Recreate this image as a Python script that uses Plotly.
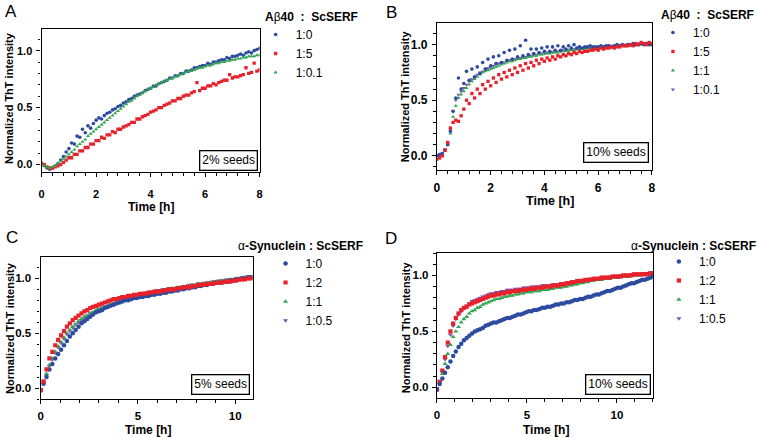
import plotly.graph_objects as go

FONT = "Liberation Sans, Arial, sans-serif"

# ---- data ----
time_ab = [0.0, 0.1, 0.2, 0.3, 0.4, 0.5, 0.6, 0.7, 0.8, 0.9,
           1.0, 1.1, 1.2, 1.3, 1.4, 1.5, 1.6, 1.7, 1.8, 1.9,
           2.0, 2.1, 2.2, 2.3, 2.4, 2.5, 2.6, 2.7, 2.8, 2.9,
           3.0, 3.1, 3.2, 3.3, 3.4, 3.5, 3.6, 3.7, 3.8, 3.9,
           4.0, 4.1, 4.2, 4.3, 4.4, 4.5, 4.6, 4.7, 4.8, 4.9,
           5.0, 5.1, 5.2, 5.3, 5.4, 5.5, 5.6, 5.7, 5.8, 5.9,
           6.0, 6.1, 6.2, 6.3, 6.4, 6.5, 6.6, 6.7, 6.8, 6.9,
           7.0, 7.1, 7.2, 7.3, 7.4, 7.5, 7.6, 7.7, 7.8, 7.9,
           8.0]

# panel A: Abeta40 : ScSERF, 2% seeds
a_1_0 = [0.01, -0.01, -0.03, -0.04, -0.03, -0.01, 0.01, 0.04, 0.07, 0.11,
         0.14, 0.19, 0.18, 0.25, 0.24, 0.31, 0.28, 0.34, 0.32, 0.36,
         0.39, 0.41, 0.40, 0.43, 0.45, 0.46, 0.48, 0.49, 0.51, 0.52,
         0.54, 0.55, 0.57, 0.58, 0.60, 0.61, 0.62, 0.63, 0.65, 0.66,
         0.67, 0.69, 0.69, 0.71, 0.72, 0.73, 0.74, 0.76, 0.76, 0.78,
         0.78, 0.80, 0.80, 0.82, 0.82, 0.83, 0.85, 0.85, 0.86, 0.87,
         0.87, 0.89, 0.88, 0.90, 0.90, 0.91, 0.92, 0.92, 0.94, 0.93,
         0.95, 0.95, 0.96, 0.97, 0.96, 0.98, 0.99, 0.98, 1.00, 1.01,
         1.02]
a_1_5 = [0.01, 0.00, -0.02, -0.03, -0.03, -0.02, -0.01, 0.00, 0.02, 0.04,
         0.06, 0.06, 0.09, 0.09, 0.12, 0.12, 0.15, 0.15, 0.18, 0.18,
         0.21, 0.21, 0.24, 0.23, 0.26, 0.26, 0.29, 0.28, 0.31, 0.31,
         0.33, 0.34, 0.35, 0.37, 0.37, 0.40, 0.40, 0.42, 0.43, 0.44,
         0.46, 0.47, 0.48, 0.50, 0.50, 0.52, 0.53, 0.54, 0.56, 0.56,
         0.58, 0.58, 0.60, 0.61, 0.61, 0.63, 0.64, 0.72, 0.65, 0.67,
         0.67, 0.69, 0.69, 0.71, 0.70, 0.72, 0.73, 0.74, 0.74, 0.79,
         0.76, 0.77, 0.77, 0.78, 0.79, 0.85, 0.80, 0.81, 0.89, 0.82,
         0.83]
a_1_01 = [0.00, -0.01, -0.02, -0.03, -0.02, -0.01, 0.01, 0.03, 0.05, 0.07,
          0.09, 0.11, 0.13, 0.16, 0.18, 0.20, 0.22, 0.25, 0.27, 0.29,
          0.31, 0.33, 0.35, 0.37, 0.39, 0.41, 0.43, 0.45, 0.47, 0.49,
          0.51, 0.53, 0.55, 0.56, 0.58, 0.60, 0.61, 0.63, 0.64, 0.66,
          0.67, 0.68, 0.70, 0.71, 0.72, 0.73, 0.74, 0.75, 0.76, 0.77,
          0.78, 0.79, 0.80, 0.81, 0.82, 0.82, 0.83, 0.84, 0.85, 0.85,
          0.86, 0.87, 0.87, 0.88, 0.89, 0.89, 0.90, 0.90, 0.91, 0.91,
          0.92, 0.92, 0.93, 0.93, 0.94, 0.94, 0.95, 0.95, 0.95, 0.96,
          0.96]

# panel B: Abeta40 : ScSERF, 10% seeds
b_1_0 = [0.00, 0.01, 0.02, 0.05, 0.10, 0.22, 0.40, 0.52, 0.70, 0.60,
         0.65, 0.76, 0.68, 0.78, 0.71, 0.80, 0.74, 0.84, 0.78, 0.87,
         0.81, 0.89, 0.83, 0.90, 0.84, 0.93, 0.86, 0.95, 0.87, 0.96,
         0.89, 0.99, 0.90, 1.04, 0.91, 0.96, 0.92, 0.96, 0.93, 0.97,
         0.94, 0.98, 0.94, 0.98, 0.95, 0.99, 0.95, 0.98, 0.96, 0.99,
         0.97, 1.00, 0.97, 0.98, 0.97, 0.98, 0.98, 0.99, 0.98, 0.98,
         0.98, 0.99, 0.98, 0.99, 0.99, 0.98, 0.99, 1.00, 0.99, 1.00,
         0.99, 1.00, 1.00, 1.01, 1.00, 1.00, 1.01, 1.00, 1.01, 1.00,
         1.00]
b_1_5 = [-0.03, -0.02, 0.00, 0.05, 0.12, 0.25, 0.30, 0.32, 0.31, 0.36,
         0.42, 0.50, 0.47, 0.56, 0.52, 0.60, 0.56, 0.64, 0.60, 0.67,
         0.63, 0.70, 0.66, 0.73, 0.69, 0.75, 0.71, 0.77, 0.73, 0.79,
         0.75, 0.81, 0.77, 0.83, 0.79, 0.84, 0.81, 0.86, 0.83, 0.87,
         0.85, 0.88, 0.86, 0.89, 0.87, 0.90, 0.89, 0.91, 0.90, 0.92,
         0.91, 0.93, 0.92, 0.94, 0.93, 0.94, 0.94, 0.95, 0.95, 0.96,
         0.95, 0.97, 0.96, 0.97, 0.97, 0.98, 0.97, 0.98, 0.98, 0.99,
         0.99, 0.99, 1.00, 0.99, 1.01, 1.00, 1.02, 1.01, 1.00, 1.02,
         1.01]
b_1_1 = [0.00, 0.00, 0.02, 0.05, 0.10, 0.20, 0.35, 0.45, 0.52, 0.55,
         0.58, 0.61, 0.64, 0.67, 0.69, 0.71, 0.73, 0.75, 0.76, 0.77,
         0.78, 0.79, 0.80, 0.81, 0.82, 0.83, 0.84, 0.85, 0.85, 0.86,
         0.87, 0.87, 0.88, 0.88, 0.89, 0.89, 0.90, 0.90, 0.91, 0.91,
         0.92, 0.92, 0.92, 0.93, 0.93, 0.93, 0.94, 0.94, 0.94, 0.95,
         0.95, 0.95, 0.96, 0.96, 0.96, 0.96, 0.97, 0.97, 0.97, 0.97,
         0.97, 0.98, 0.98, 0.98, 0.98, 0.98, 0.98, 0.99, 0.99, 0.99,
         0.99, 0.99, 0.99, 0.99, 1.00, 1.00, 1.00, 1.00, 1.00, 1.00,
         1.00]
b_1_01 = [0.00, 0.01, 0.02, 0.06, 0.11, 0.24, 0.40, 0.50, 0.55, 0.58,
          0.61, 0.64, 0.67, 0.69, 0.71, 0.73, 0.75, 0.76, 0.78, 0.79,
          0.80, 0.81, 0.82, 0.83, 0.84, 0.84, 0.85, 0.86, 0.86, 0.87,
          0.88, 0.88, 0.89, 0.89, 0.90, 0.90, 0.91, 0.91, 0.92, 0.92,
          0.92, 0.93, 0.93, 0.93, 0.94, 0.94, 0.94, 0.95, 0.95, 0.95,
          0.96, 0.96, 0.96, 0.96, 0.97, 0.97, 0.97, 0.97, 0.98, 0.98,
          0.98, 0.98, 0.98, 0.99, 0.99, 0.99, 0.99, 0.99, 0.99, 1.00,
          1.00, 1.00, 1.00, 1.00, 1.00, 1.01, 1.01, 1.01, 1.01, 1.01,
          1.01]

time_c = [0.0, 0.15, 0.3, 0.45, 0.6, 0.75, 0.9, 1.05, 1.2, 1.35,
          1.5, 1.65, 1.8, 1.95, 2.1, 2.25, 2.4, 2.55, 2.7, 2.85,
          3.0, 3.15, 3.3, 3.45, 3.6, 3.75, 3.9, 4.05, 4.2, 4.35,
          4.5, 4.65, 4.8, 4.95, 5.1, 5.25, 5.4, 5.55, 5.7, 5.85,
          6.0, 6.15, 6.3, 6.45, 6.6, 6.75, 6.9, 7.05, 7.2, 7.35,
          7.5, 7.65, 7.8, 7.95, 8.1, 8.25, 8.4, 8.55, 8.7, 8.85,
          9.0, 9.15, 9.3, 9.45, 9.6, 9.75, 9.9, 10.05, 10.2, 10.35,
          10.5, 10.65, 10.8]

# panel C: alpha-Synuclein : ScSERF, 5% seeds
c_1_0 = [-0.02, 0.04, 0.10, 0.17, 0.22, 0.27, 0.31, 0.35, 0.39, 0.43,
         0.47, 0.50, 0.53, 0.56, 0.59, 0.61, 0.63, 0.65, 0.67, 0.69,
         0.70, 0.71, 0.73, 0.74, 0.75, 0.76, 0.77, 0.78, 0.79, 0.80,
         0.80, 0.81, 0.82, 0.82, 0.83, 0.83, 0.84, 0.84, 0.85, 0.85,
         0.86, 0.86, 0.87, 0.87, 0.88, 0.88, 0.89, 0.89, 0.90, 0.90,
         0.91, 0.91, 0.92, 0.92, 0.93, 0.93, 0.94, 0.94, 0.95, 0.95,
         0.96, 0.96, 0.96, 0.97, 0.97, 0.98, 0.98, 0.99, 0.99, 1.00,
         1.00, 1.01, 1.01]
c_1_2 = [-0.02, 0.06, 0.17, 0.27, 0.33, 0.39, 0.44, 0.48, 0.52, 0.56,
         0.59, 0.62, 0.64, 0.66, 0.68, 0.70, 0.71, 0.73, 0.74, 0.75,
         0.76, 0.77, 0.78, 0.79, 0.80, 0.81, 0.81, 0.82, 0.83, 0.83,
         0.84, 0.84, 0.85, 0.85, 0.86, 0.86, 0.86, 0.87, 0.87, 0.88,
         0.88, 0.88, 0.89, 0.89, 0.90, 0.90, 0.90, 0.91, 0.91, 0.92,
         0.92, 0.92, 0.93, 0.93, 0.94, 0.94, 0.94, 0.95, 0.95, 0.95,
         0.96, 0.96, 0.96, 0.97, 0.97, 0.97, 0.98, 0.98, 0.99, 0.99,
         0.99, 1.00, 1.00]
c_1_1 = [-0.02, 0.05, 0.13, 0.21, 0.27, 0.33, 0.38, 0.42, 0.46, 0.50,
         0.53, 0.56, 0.58, 0.61, 0.63, 0.65, 0.66, 0.68, 0.69, 0.71,
         0.72, 0.73, 0.74, 0.75, 0.76, 0.77, 0.78, 0.79, 0.80, 0.81,
         0.82, 0.83, 0.84, 0.84, 0.85, 0.86, 0.86, 0.87, 0.87, 0.88,
         0.88, 0.89, 0.89, 0.90, 0.90, 0.91, 0.91, 0.92, 0.92, 0.92,
         0.93, 0.93, 0.94, 0.94, 0.95, 0.95, 0.95, 0.96, 0.96, 0.97,
         0.97, 0.97, 0.98, 0.98, 0.98, 0.99, 0.99, 1.00, 1.00, 1.00,
         1.01, 1.01, 1.01]
c_1_05 = [-0.01, 0.05, 0.12, 0.20, 0.26, 0.32, 0.37, 0.41, 0.45, 0.49,
          0.52, 0.55, 0.58, 0.60, 0.62, 0.64, 0.66, 0.68, 0.69, 0.70,
          0.72, 0.73, 0.74, 0.75, 0.76, 0.77, 0.78, 0.79, 0.80, 0.81,
          0.82, 0.83, 0.84, 0.85, 0.85, 0.86, 0.87, 0.87, 0.88, 0.88,
          0.89, 0.89, 0.90, 0.90, 0.91, 0.91, 0.91, 0.92, 0.92, 0.93,
          0.93, 0.94, 0.94, 0.94, 0.95, 0.95, 0.96, 0.96, 0.96, 0.97,
          0.97, 0.98, 0.98, 0.98, 0.99, 0.99, 0.99, 1.00, 1.00, 1.01,
          1.01, 1.01, 1.02]

time_d = [0.0, 0.15, 0.3, 0.45, 0.6, 0.75, 0.9, 1.05, 1.2, 1.35,
          1.5, 1.65, 1.8, 1.95, 2.1, 2.25, 2.4, 2.55, 2.7, 2.85,
          3.0, 3.15, 3.3, 3.45, 3.6, 3.75, 3.9, 4.05, 4.2, 4.35,
          4.5, 4.65, 4.8, 4.95, 5.1, 5.25, 5.4, 5.55, 5.7, 5.85,
          6.0, 6.15, 6.3, 6.45, 6.6, 6.75, 6.9, 7.05, 7.2, 7.35,
          7.5, 7.65, 7.8, 7.95, 8.1, 8.25, 8.4, 8.55, 8.7, 8.85,
          9.0, 9.15, 9.3, 9.45, 9.6, 9.75, 9.9, 10.05, 10.2, 10.35,
          10.5, 10.65, 10.8, 10.95, 11.1, 11.25, 11.4, 11.55, 11.7, 11.85,
          12.0]

# panel D: alpha-Synuclein : ScSERF, 10% seeds
d_1_0 = [-0.02, 0.03, 0.08, 0.13, 0.18, 0.23, 0.28, 0.32, 0.36, 0.39,
         0.42, 0.44, 0.46, 0.48, 0.50, 0.51, 0.52, 0.53, 0.55, 0.56,
         0.57, 0.58, 0.58, 0.59, 0.60, 0.61, 0.62, 0.62, 0.63, 0.64,
         0.65, 0.65, 0.66, 0.67, 0.68, 0.68, 0.69, 0.69, 0.70, 0.71,
         0.71, 0.72, 0.72, 0.73, 0.74, 0.74, 0.75, 0.75, 0.76, 0.76,
         0.77, 0.78, 0.78, 0.79, 0.79, 0.80, 0.81, 0.81, 0.82, 0.83,
         0.83, 0.84, 0.85, 0.86, 0.86, 0.87, 0.88, 0.89, 0.89, 0.90,
         0.91, 0.92, 0.93, 0.93, 0.94, 0.95, 0.96, 0.96, 0.97, 0.98,
         0.99]
d_1_2 = [-0.02, 0.05, 0.15, 0.27, 0.40, 0.50, 0.57, 0.62, 0.66, 0.69,
         0.71, 0.72, 0.74, 0.75, 0.76, 0.77, 0.78, 0.79, 0.80, 0.81,
         0.82, 0.82, 0.83, 0.83, 0.84, 0.84, 0.85, 0.85, 0.86, 0.86,
         0.86, 0.87, 0.87, 0.87, 0.88, 0.88, 0.88, 0.89, 0.89, 0.89,
         0.90, 0.90, 0.90, 0.91, 0.91, 0.91, 0.92, 0.92, 0.93, 0.93,
         0.94, 0.94, 0.95, 0.95, 0.95, 0.96, 0.96, 0.96, 0.97, 0.97,
         0.97, 0.98, 0.98, 0.98, 0.98, 0.99, 0.99, 0.99, 0.99, 1.00,
         1.00, 1.00, 1.00, 1.01, 1.01, 1.01, 1.01, 1.01, 1.01, 1.02,
         1.02]
d_1_1 = [-0.02, 0.04, 0.12, 0.21, 0.30, 0.38, 0.45, 0.50, 0.54, 0.58,
         0.61, 0.63, 0.66, 0.68, 0.69, 0.71, 0.72, 0.74, 0.75, 0.76,
         0.77, 0.78, 0.79, 0.79, 0.80, 0.81, 0.81, 0.82, 0.82, 0.83,
         0.83, 0.84, 0.84, 0.85, 0.85, 0.85, 0.86, 0.86, 0.86, 0.87,
         0.87, 0.87, 0.88, 0.88, 0.89, 0.89, 0.89, 0.90, 0.90, 0.91,
         0.91, 0.92, 0.92, 0.93, 0.93, 0.94, 0.94, 0.95, 0.95, 0.96,
         0.96, 0.96, 0.97, 0.97, 0.97, 0.98, 0.98, 0.98, 0.99, 0.99,
         0.99, 0.99, 1.00, 1.00, 1.00, 1.00, 1.01, 1.01, 1.01, 1.01,
         1.01]
d_1_05 = [-0.01, 0.05, 0.14, 0.25, 0.37, 0.47, 0.55, 0.61, 0.65, 0.68,
          0.71, 0.73, 0.75, 0.77, 0.78, 0.79, 0.80, 0.81, 0.82, 0.83,
          0.84, 0.84, 0.85, 0.85, 0.86, 0.86, 0.87, 0.87, 0.87, 0.88,
          0.88, 0.88, 0.89, 0.89, 0.89, 0.90, 0.90, 0.90, 0.90, 0.91,
          0.91, 0.91, 0.91, 0.92, 0.92, 0.92, 0.93, 0.93, 0.93, 0.94,
          0.94, 0.94, 0.95, 0.95, 0.96, 0.96, 0.96, 0.97, 0.97, 0.97,
          0.97, 0.98, 0.98, 0.98, 0.99, 0.99, 0.99, 0.99, 1.00, 1.00,
          1.00, 1.00, 1.01, 1.01, 1.01, 1.01, 1.01, 1.02, 1.02, 1.02,
          1.02]

BLUE = "#2c4aa0"
RED = "#e8212b"
GREEN = "#35a552"
PURPLE = "#8452ad"

W, H = 757, 438


def px(x):
    return x / W


def py(y):
    return 1 - y / H


fig = go.Figure()


def add(x, y, name, color, symbol, size, ax, leg, rank):
    fig.add_trace(go.Scatter(
        x=x, y=y, mode="markers", name=name,
        marker=dict(color=color, symbol=symbol, size=size, line=dict(width=0)),
        xaxis="x" + ax, yaxis="y" + ax, legend=leg, legendrank=rank,
    ))


# A
add(time_ab, a_1_0, "1:0", BLUE, "circle", 3.6, "", "legend", 1)
add(time_ab, a_1_5, "1:5", RED, "square", 3.3, "", "legend", 2)
add(time_ab, a_1_01, "1:0.1", GREEN, "triangle-up", 3.8, "", "legend", 3)
# B
add(time_ab, b_1_01, "1:0.1", PURPLE, "triangle-down", 3.8, "2", "legend2", 4)
add(time_ab, b_1_1, "1:1", GREEN, "triangle-up", 3.8, "2", "legend2", 3)
add(time_ab, b_1_0, "1:0", BLUE, "circle", 3.6, "2", "legend2", 1)
add(time_ab, b_1_5, "1:5", RED, "square", 3.3, "2", "legend2", 2)
# C
add(time_c, c_1_05, "1:0.5", PURPLE, "triangle-down", 4.5, "3", "legend3", 4)
add(time_c, c_1_1, "1:1", GREEN, "triangle-up", 4.5, "3", "legend3", 3)
add(time_c, c_1_0, "1:0", BLUE, "circle", 4.5, "3", "legend3", 1)
add(time_c, c_1_2, "1:2", RED, "square", 4.2, "3", "legend3", 2)
# D
add(time_d, d_1_05, "1:0.5", PURPLE, "triangle-down", 4.5, "4", "legend4", 4)
add(time_d, d_1_1, "1:1", GREEN, "triangle-up", 4.5, "4", "legend4", 3)
add(time_d, d_1_2, "1:2", RED, "square", 4.2, "4", "legend4", 2)
add(time_d, d_1_0, "1:0", BLUE, "circle", 4.5, "4", "legend4", 1)


def xaxis(domain, anchor, rng, dtick, minor, fs, standoff):
    return dict(domain=domain, anchor=anchor, range=rng, dtick=dtick, tick0=0,
                showline=True, linecolor="black", linewidth=1.3, mirror=True,
                ticks="outside", ticklen=4, tickwidth=1.3, tickcolor="black",
                minor=dict(dtick=minor, ticks="outside", ticklen=2.5, tickwidth=1, tickcolor="black"),
                showgrid=False, zeroline=False, ticklabelstandoff=standoff,
                tickfont=dict(family=FONT, size=fs, color="black", weight="bold"))


def yaxis(domain, anchor, rng, fs, standoff):
    d = xaxis(domain, anchor, rng, 0.5, 0.1, fs, standoff)
    d["tickformat"] = ".1f"
    return d


def legend(x, y, fs):
    return dict(x=px(x), y=py(y), xanchor="left", yanchor="top",
                bgcolor="rgba(0,0,0,0)", borderwidth=0, itemwidth=30,
                tracegroupgap=0, traceorder="normal",
                font=dict(family=FONT, size=fs, color="black"))


annotations = []


def text(x, y, s, size, angle=0, xanchor="center"):
    annotations.append(dict(x=px(x), y=py(y), xref="paper", yref="paper", text=s,
                            showarrow=False, textangle=angle, xanchor=xanchor,
                            yanchor="middle", font=dict(family=FONT, size=size, color="black")))


def box(right, bottom, s):
    annotations.append(dict(x=px(right), y=py(bottom), xref="paper", yref="paper", text=s,
                            showarrow=False, xanchor="right", yanchor="bottom",
                            bordercolor="black", borderwidth=1.3, borderpad=2, bgcolor="white",
                            font=dict(family=FONT, size=12, color="black")))


NB = "\u00a0"
ab_title = "<b>A</b>\u03b2<b>40" + NB + NB + ":" + NB + NB + "ScSERF</b>"
syn_title = "\u03b1<b>-Synuclein" + NB + ":" + NB + "ScSERF</b>"

# panel letters
text(8, 11, "A", 17)
text(392, 12, "B", 17)
text(9, 237, "C", 17)
text(392, 238, "D", 17)
# legend titles
text(262, 17, ab_title, 12, xanchor="left")
text(662, 15, ab_title, 12, xanchor="left")
text(235, 246, syn_title, 12, xanchor="left")
text(632, 246, syn_title, 12, xanchor="left")
# axis titles
ytitle = "<b>Normalized ThT intensity</b>"
text(6, 98, ytitle, 11, angle=-90)
text(406, 96, ytitle, 11, angle=-90)
text(7, 328, ytitle, 11, angle=-90)
text(407, 327, ytitle, 11, angle=-90)
text(149, 207, "<b>Time [h]</b>", 12)
text(552, 201, "<b>Time [h]</b>", 12.5)
text(146, 430, "<b>Time [h]</b>", 12)
text(548, 430, "<b>Time [h]</b>", 12)
# seed boxes
box(257, 171, "2% seeds")
box(652, 163, "10% seeds")
box(249, 395, "5% seeds")
box(654, 395, "10% seeds")

fig.update_layout(
    width=W, height=H,
    margin=dict(l=0, r=0, t=0, b=0),
    paper_bgcolor="white", plot_bgcolor="white",
    font=dict(family=FONT, color="black"),
    xaxis=xaxis([px(39), px(259)], "y", [0, 8], 2, 0.4, 11, 8),
    yaxis=yaxis([py(172), py(29)], "x", [-0.065, 1.19], 11, 2),
    xaxis2=xaxis([px(438), px(655)], "y2", [0, 8], 2, 0.4, 12, 2),
    yaxis2=yaxis([py(170), py(23)], "x2", [-0.128, 1.195], 12, 2),
    xaxis3=xaxis([px(38), px(252)], "y3", [0, 10.9], 5, 1, 11.5, 2),
    yaxis3=yaxis([py(399), py(257)], "x3", [-0.1, 1.195], 11.5, 2),
    xaxis4=xaxis([px(438), px(656)], "y4", [0, 12], 5, 1, 11.5, 2),
    yaxis4=yaxis([py(398), py(253)], "x4", [-0.095, 1.2], 11.5, 1),
    legend=legend(255, 20, 12),
    legend2=legend(656, 18, 12),
    legend3=legend(265, 249, 12),
    legend4=legend(662, 247, 12),
    annotations=annotations,
)

# the page body has an 8px default margin; drop it so the figure sits at 0,0
fig.write_html("out.html", config={"displayModeBar": False},
               post_script="document.body.style.margin='0';")
